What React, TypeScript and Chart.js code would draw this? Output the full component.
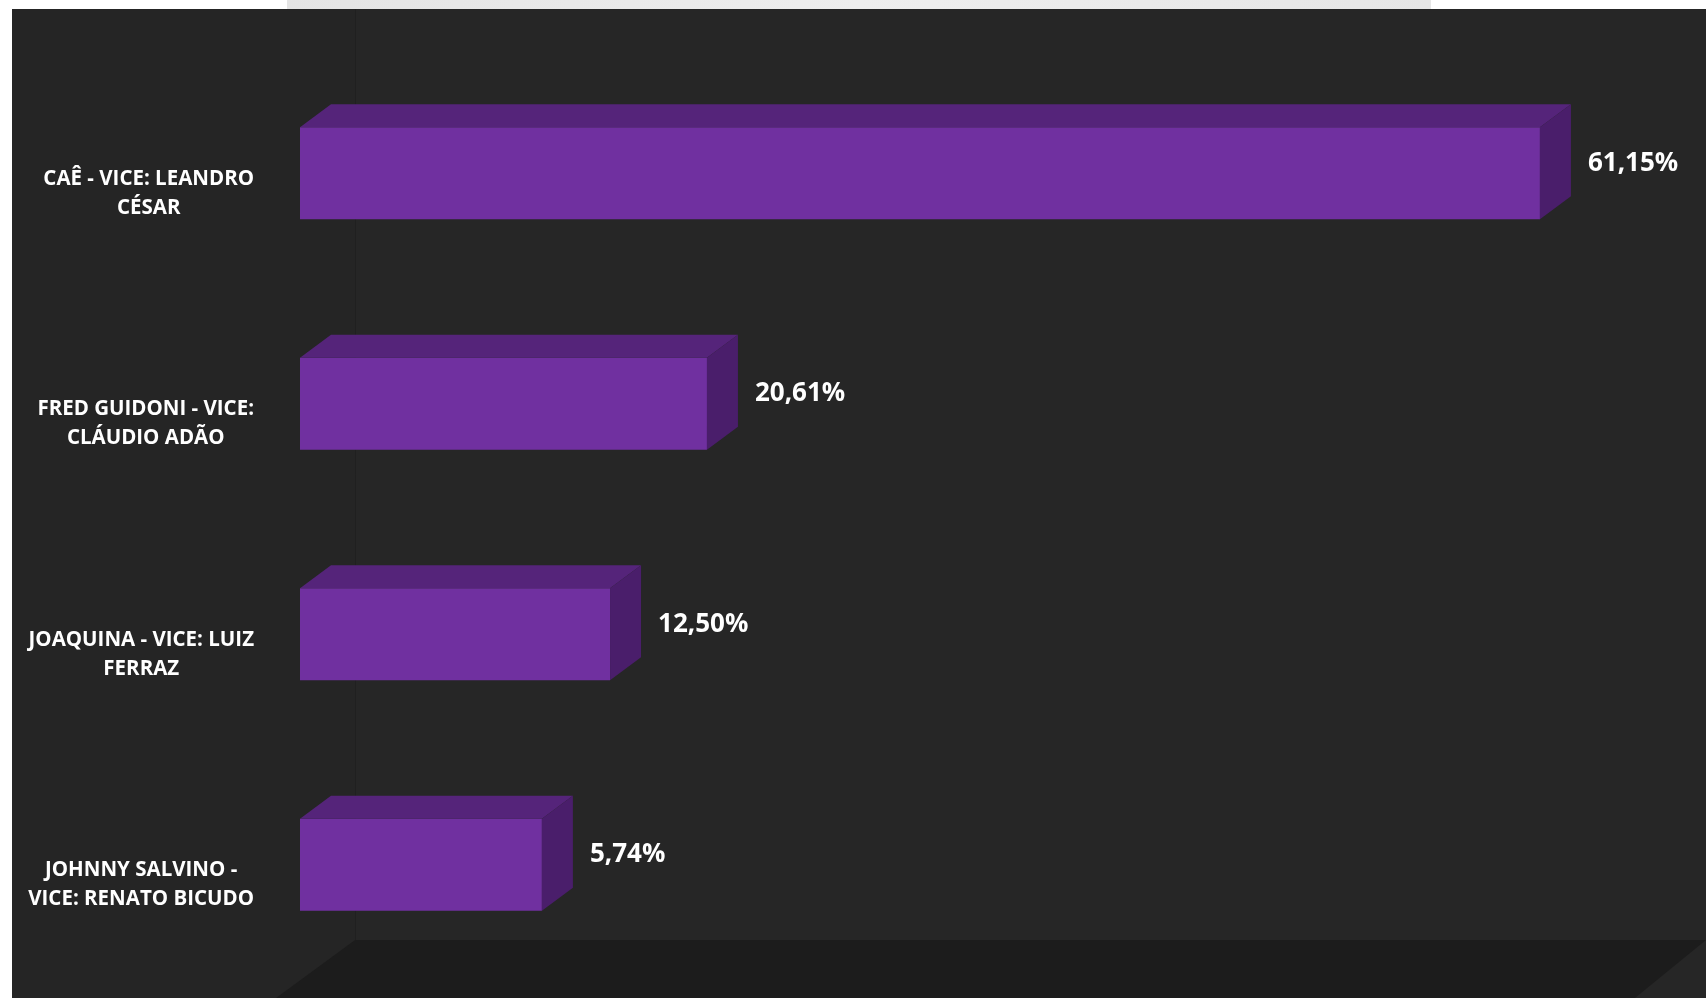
import React, { useEffect, useRef } from "react";
import { Chart, registerables } from "chart.js";

Chart.register(...registerables);

// ---- data ----
const categories: string[][] = [
  ["CAÊ - VICE: LEANDRO", "CÉSAR"],
  ["FRED GUIDONI - VICE:", "CLÁUDIO ADÃO"],
  ["JOAQUINA - VICE: LUIZ", "FERRAZ"],
  ["JOHNNY SALVINO -", "VICE: RENATO BICUDO"],
];
// bar lengths as drawn in the picture (axis units)
const barLengths: number[] = [61.15, 20.07, 15.29, 11.93];
// data labels shown next to the bars
const shares: number[] = [61.15, 20.61, 12.5, 5.74];
const axisMin = 0;
const axisMax = 65;

// ---- style ----
const W = 1706;
const H = 998;
const FRONT = "#7030A0";
const TOP = "#55247A";
const SIDE = "#4A1E6B";
const FONT = '"Open Sans", "Noto Sans", sans-serif';
const DEPTH_X = 31;
const DEPTH_Y = 23;
const AXIS_W = 300;
const LABEL_RIGHT = 254;
const CAT_FONT = 20.5;
const CAT_LINE = 29;
const VAL_FONT = 26;

const fmt = (v: number) => v.toFixed(2).replace(".", ",") + "%";

export default function App() {
  const ref = useRef<HTMLCanvasElement | null>(null);

  useEffect(() => {
    const canvas = ref.current;
    if (!canvas) return;

    const backdrop = {
      id: "backdrop",
      beforeDraw(chart: any) {
        const ctx = chart.ctx;
        ctx.save();
        ctx.fillStyle = "#ffffff";
        ctx.fillRect(0, 0, W, H);
        const g = ctx.createLinearGradient(287, 0, 1431, 0);
        g.addColorStop(0, "#e4e4e4");
        g.addColorStop(0.5, "#eeeeee");
        g.addColorStop(1, "#e6e6e6");
        ctx.fillStyle = g;
        ctx.fillRect(287, 0, 1144, 9);
        // panel
        ctx.fillStyle = "#262626";
        ctx.fillRect(12, 9, W - 12, H - 9);
        // side wall
        ctx.fillStyle = "#252525";
        ctx.fillRect(12, 9, 343, H - 9);
        // back wall edge
        ctx.strokeStyle = "#202020";
        ctx.lineWidth = 1;
        ctx.beginPath();
        ctx.moveTo(355.5, 9);
        ctx.lineTo(355.5, 940);
        ctx.stroke();
        // floor
        ctx.fillStyle = "#1c1c1c";
        ctx.beginPath();
        ctx.moveTo(355, 940);
        ctx.lineTo(W, 940);
        ctx.lineTo(1635, H);
        ctx.lineTo(276, H);
        ctx.closePath();
        ctx.fill();
        ctx.restore();
      },
    };

    const bars3d = {
      id: "bars3d",
      afterDatasetsDraw(chart: any) {
        const ctx = chart.ctx;
        const meta = chart.getDatasetMeta(0);
        const yScale = chart.scales.y;
        ctx.save();
        meta.data.forEach((el: any, i: number) => {
          const { x, y, base, height } = el.getProps(["x", "y", "base", "height"], true);
          const top = y - height / 2;
          const bottom = y + height / 2;
          ctx.fillStyle = TOP;
          ctx.beginPath();
          ctx.moveTo(base, top);
          ctx.lineTo(base + DEPTH_X, top - DEPTH_Y);
          ctx.lineTo(x + DEPTH_X, top - DEPTH_Y);
          ctx.lineTo(x, top);
          ctx.closePath();
          ctx.fill();
          ctx.fillStyle = SIDE;
          ctx.beginPath();
          ctx.moveTo(x, top);
          ctx.lineTo(x + DEPTH_X, top - DEPTH_Y);
          ctx.lineTo(x + DEPTH_X, bottom - DEPTH_Y);
          ctx.lineTo(x, bottom);
          ctx.closePath();
          ctx.fill();
          // value label
          ctx.fillStyle = "#ffffff";
          ctx.font = `bold ${VAL_FONT}px ${FONT}`;
          ctx.textAlign = "left";
          ctx.textBaseline = "middle";
          ctx.fillText(fmt(shares[i]), x + 48, y - 10);
        });

        // category labels: block right-aligned, lines centred within block
        ctx.font = `bold ${CAT_FONT}px ${FONT}`;
        ctx.fillStyle = "#ffffff";
        ctx.textAlign = "center";
        ctx.textBaseline = "middle";
        categories.forEach((lines, i) => {
          const cy = yScale.getPixelForValue(i) + 20;
          const bw = Math.max(...lines.map((l) => ctx.measureText(l).width));
          const cx = LABEL_RIGHT - bw / 2;
          const y0 = cy - ((lines.length - 1) * CAT_LINE) / 2;
          lines.forEach((l, k) => ctx.fillText(l, cx, y0 + k * CAT_LINE));
        });
        ctx.restore();
      },
    };

    const chart = new Chart(canvas, {
      type: "bar",
      data: {
        labels: categories.map((l) => l.join(" ")),
        datasets: [
          {
            data: barLengths,
            backgroundColor: FRONT,
            borderWidth: 0,
            barPercentage: 0.4,
            categoryPercentage: 1,
          },
        ],
      },
      options: {
        indexAxis: "y",
        animation: false,
        responsive: false,
        devicePixelRatio: 1,
        layout: { padding: { top: 58, bottom: 18, right: 88, left: 0 } },
        plugins: {
          legend: { display: false },
          tooltip: { enabled: false },
        },
        scales: {
          x: {
            display: false,
            min: axisMin,
            max: axisMax,
            grid: { display: false },
          },
          y: {
            grid: { display: false, drawTicks: false },
            border: { display: false },
            ticks: { display: false },
            afterFit: (s: any) => {
              s.width = AXIS_W;
            },
          },
        },
      } as any,
      plugins: [backdrop, bars3d],
    });

    return () => chart.destroy();
  }, []);

  return (
    <div style={{ position: "fixed", left: 0, top: 0, width: W, height: H }}>
      <canvas ref={ref} width={W} height={H} style={{ display: "block", width: W, height: H }} />
    </div>
  );
}
